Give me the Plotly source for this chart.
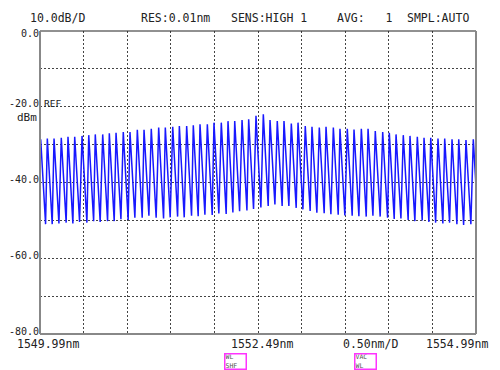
import plotly.graph_objects as go

# ---- data ----
peak_nm = [1549.998, 1550.074, 1550.151, 1550.234, 1550.311, 1550.388, 1550.472, 1550.549,
           1550.624, 1550.709, 1550.785, 1550.862, 1550.945, 1551.022, 1551.106, 1551.183,
           1551.266, 1551.351, 1551.427, 1551.512, 1551.588, 1551.672, 1551.748, 1551.825,
           1551.909, 1551.985, 1552.069, 1552.146, 1552.223, 1552.307, 1552.383, 1552.467,
           1552.551, 1552.628, 1552.711, 1552.788, 1552.872, 1552.949, 1553.032, 1553.109,
           1553.193, 1553.270, 1553.354, 1553.430, 1553.514, 1553.591, 1553.675, 1553.752,
           1553.835, 1553.920, 1553.996, 1554.073, 1554.156, 1554.233, 1554.317, 1554.394,
           1554.471, 1554.554, 1554.631, 1554.715, 1554.792, 1554.875, 1554.959]
peak_dbm = [-28.6, -28.4, -28.4, -28.2, -27.9, -27.9, -27.7, -27.5, -27.3, -27.3, -27.0, -26.9,
            -26.7, -26.7, -26.1, -26.1,
            -25.8, -25.5, -25.5, -25.3, -25.1, -25.1, -24.9, -24.6, -24.6, -24.2, -24.2, -23.8,
            -23.8, -23.5, -23.3, -22.4,
            -22.0, -23.5, -23.8, -23.8, -24.4, -24.2, -25.1, -25.3, -25.5, -25.3, -25.5, -25.8,
            -25.8, -26.0, -25.8, -25.8,
            -26.4, -26.7, -26.9, -27.3, -27.5, -27.7, -27.9, -28.2, -28.2, -28.4, -28.4, -28.6,
            -28.6, -28.8, -28.6]
trough_nm = [1550.054, 1550.130, 1550.207, 1550.290, 1550.367, 1550.444, 1550.528, 1550.605,
             1550.680, 1550.765, 1550.841, 1550.918, 1551.001, 1551.078, 1551.162, 1551.239,
             1551.322, 1551.407, 1551.483, 1551.568, 1551.644, 1551.728, 1551.804, 1551.881,
             1551.965, 1552.041, 1552.125, 1552.202, 1552.279, 1552.363, 1552.439, 1552.523,
             1552.607, 1552.684, 1552.767, 1552.844, 1552.928, 1553.005, 1553.088, 1553.165,
             1553.249, 1553.326, 1553.410, 1553.486, 1553.570, 1553.647, 1553.731, 1553.808,
             1553.891, 1553.976, 1554.052, 1554.129, 1554.212, 1554.289, 1554.373, 1554.450,
             1554.527, 1554.610, 1554.687, 1554.771, 1554.848, 1554.931, 1555.015]
trough_dbm = [-51.0, -51.0, -50.8, -50.6, -50.8, -50.4, -50.6, -50.2, -50.4, -50.2, -50.2, -49.7,
              -49.9, -49.3, -49.3, -48.8,
              -49.3, -49.5, -49.2, -49.0, -49.2, -48.8, -48.9, -48.5, -48.6, -48.2, -48.3, -47.9,
              -47.6, -47.4, -47.0, -46.6,
              -46.2, -45.8, -46.2, -46.2, -46.7, -47.1, -47.5, -48.0, -48.1, -48.4, -48.5, -48.7,
              -48.8, -48.9, -49.0, -48.8,
              -49.0, -49.3, -49.6, -49.5, -49.9, -50.2, -50.0, -50.4, -50.6, -50.8, -50.6, -51.0,
              -51.2, -51.0, -51.2]

x_grid = [1549.99, 1550.49, 1550.99, 1551.49, 1551.99, 1552.49, 1552.99, 1553.49, 1553.99,
          1554.49, 1554.99]
y_grid = [0, -10, -20, -30, -40, -50, -60, -70, -80]
y_labels = {0: "0.0", -20: "-20.0", -40: "-40.0", -60: "-60.0", -80: "-80.0"}
header = ["10.0dB/D", "RES:0.01nm", "SENS:HIGH 1", "AVG:   1", "SMPL:AUTO"]
bottom_labels = ["1549.99nm", "1552.49nm", "0.50nm/D", "1554.99nm"]

# interleave peaks and troughs into one trace
xs, ys = [], []
for pn, pd, tn, td in zip(peak_nm, peak_dbm, trough_nm, trough_dbm):
    xs += [pn, tn]
    ys += [pd, td]

W, H = 500, 370
L, R, T, B = 40, 476, 31, 334
def px(x):
    return (x - L) / (R - L)
def py(y):
    return (B - y) / (B - T)

MONO = "DejaVu Sans Mono"
fig = go.Figure()
fig.add_trace(go.Scatter(x=xs, y=ys, mode="lines",
                         line=dict(color="#1818ff", width=1.5), hoverinfo="skip",
                         cliponaxis=True))

ann = []
# header
hx = [28, 139, 229, 335, 405]
for t, x0 in zip(header, hx):
    ann.append(dict(text=t, xref="paper", yref="paper", x=px(x0), y=py(18),
                    xanchor="left", yanchor="middle", showarrow=False,
                    font=dict(family=MONO, size=11.5, color="#222")))
# y labels
for v, t in y_labels.items():
    ann.append(dict(text=t, xref="paper", yref="y", x=px(41), y=v,
                    yshift=(-2 if v == 0 else 3),
                    xanchor="right", yanchor="middle", showarrow=False,
                    font=dict(family=MONO, size=10, color="#222")))
ann.append(dict(text="REF", xref="paper", yref="y", x=px(42), y=-20, yshift=3,
                xanchor="left", yanchor="middle", showarrow=False,
                font=dict(family=MONO, size=9.5, color="#222")))
ann.append(dict(text="dBm", xref="paper", yref="y", x=px(39), y=-20, yshift=-11,
                xanchor="right", yanchor="middle", showarrow=False,
                font=dict(family=MONO, size=11, color="#222")))
# bottom labels
bx = [(15, "left"), (262, "center"), (370, "center"), (457, "center")]
for t, (x0, anc) in zip(bottom_labels, bx):
    ann.append(dict(text=t, xref="paper", yref="paper", x=px(x0), y=py(344),
                    xanchor=anc, yanchor="middle", showarrow=False,
                    font=dict(family=MONO, size=11.5, color="#222")))
# magenta soft-key boxes
for t, xc in [("WL<br>SHF", 235), ("VAC<br>WL", 365)]:
    ann.append(dict(text=t, xref="paper", yref="paper", x=px(xc), y=py(361),
                    xanchor="center", yanchor="middle", showarrow=False,
                    width=20, height=14, borderwidth=1.5, bordercolor="#ff33ff",
                    borderpad=0, align="left",
                    font=dict(family=MONO, size=6.5, color="#555")))

shapes = [
    dict(type="line", xref="paper", yref="paper", x0=0, x1=1, y0=1, y1=1,
         line=dict(color="#222", width=1)),
    dict(type="line", xref="paper", yref="paper", x0=0, x1=0, y0=0, y1=1,
         line=dict(color="#888", width=2)),
    dict(type="line", xref="paper", yref="paper", x0=1, x1=1, y0=0, y1=1,
         line=dict(color="#888", width=2)),
    dict(type="line", xref="paper", yref="paper", x0=0, x1=1, y0=0, y1=0,
         line=dict(color="#888", width=2)),
]

fig.update_layout(
    width=W, height=H,
    margin=dict(l=L, r=W - R, t=T, b=H - B, autoexpand=False),
    paper_bgcolor="white", plot_bgcolor="white", showlegend=False,
    annotations=ann, shapes=shapes,
    xaxis=dict(range=[x_grid[0], x_grid[-1]], tickvals=x_grid, showticklabels=False,
               showgrid=True, gridcolor="#444", gridwidth=1, griddash="2px,2px",
               zeroline=False, showline=False, ticks=""),
    yaxis=dict(range=[y_grid[-1], y_grid[0]], tickvals=y_grid, showticklabels=False,
               showgrid=True, gridcolor="#444", gridwidth=1, griddash="2px,2px",
               zeroline=False, showline=False, ticks=""),
)
fig.write_html("out.html", config={"displayModeBar": False},
               post_script="document.body.style.margin='0';document.body.style.padding='0';")
